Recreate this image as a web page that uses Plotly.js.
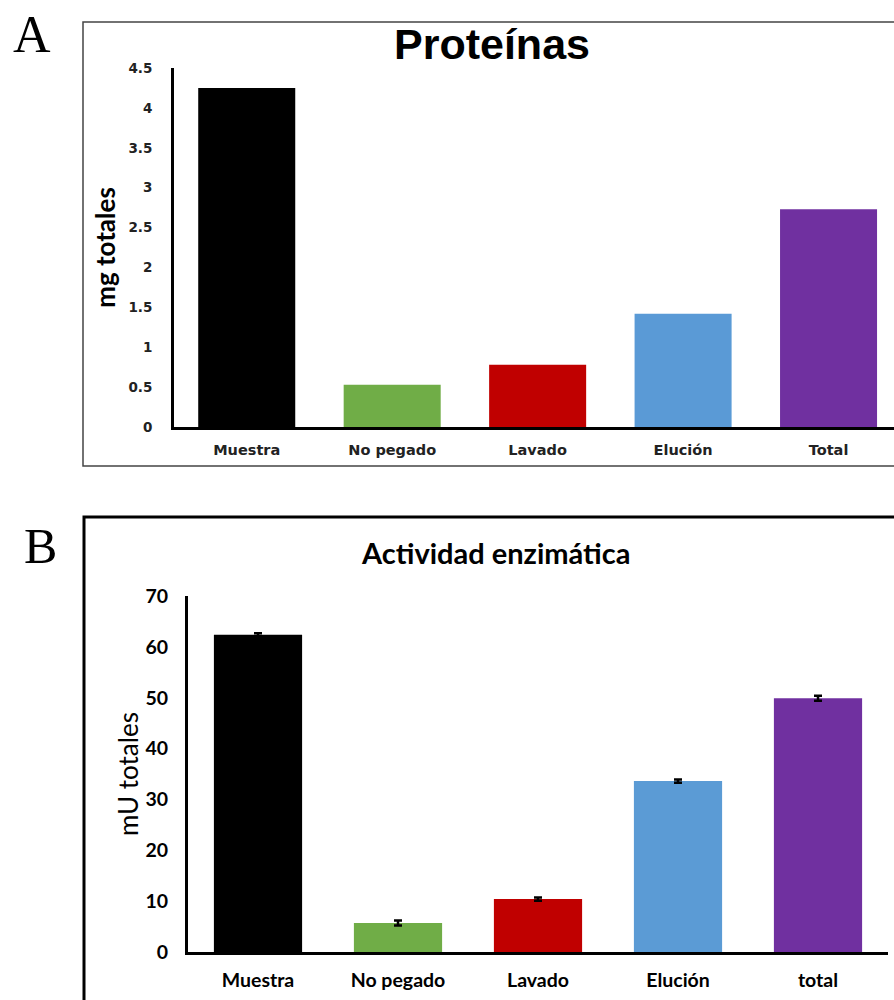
<!DOCTYPE html>
<html>
<head>
<meta charset="utf-8">
<script src="https://cdn.plot.ly/plotly-3.0.1.min.js"></script>
<style>html,body{margin:0;padding:0;background:#fff;overflow:hidden}</style>
</head>
<body>
<div id="chart" style="width:894px;height:1000px"></div>
<script>
// Panel A: Proteínas (mg totales)
const catsA = ["Muestra", "No pegado", "Lavado", "Elución", "Total"];
const protA = [4.25, 0.53, 0.78, 1.42, 2.73];
const colorsA = ["#000000", "#70AD47", "#C00000", "#5A9AD6", "#7030A0"];
const ticksA = [0, 0.5, 1, 1.5, 2, 2.5, 3, 3.5, 4, 4.5];
const tickTextA = ["0", "0.5", "1", "1.5", "2", "2.5", "3", "3.5", "4", "4.5"];

// Panel B: Actividad enzimática (mU totales)
const catsB = ["Muestra", "No pegado", "Lavado", "Elución", "total"];
const actB = [62.4, 5.7, 10.4, 33.6, 49.9];
const errB = [0.3, 0.5, 0.3, 0.3, 0.5];
const colorsB = ["#000000", "#70AD47", "#C00000", "#5B9BD5", "#7030A0"];
const ticksB = [0, 10, 20, 30, 40, 50, 60, 70];

const W = 894, H = 1000;
const px = v => v / W;
const py = v => 1 - v / H;

const traces = [
  {
    type: "bar", x: catsA, y: protA, xaxis: "x", yaxis: "y",
    width: 0.667, marker: {color: colorsA, line: {width: 0}},
    hoverinfo: "x+y", showlegend: false
  },
  {
    type: "bar", x: catsB, y: actB, xaxis: "x2", yaxis: "y2",
    width: 0.63, marker: {color: colorsB, line: {width: 0}},
    error_y: {type: "data", array: errB, visible: true, color: "#000", thickness: 2.5, width: 4},
    hoverinfo: "x+y", showlegend: false
  }
];

const layout = {
  width: W, height: H,
  margin: {l: 0, r: 0, t: 0, b: 0},
  paper_bgcolor: "#fff", plot_bgcolor: "rgba(0,0,0,0)",
  bargap: 0.33,
  xaxis: {
    domain: [px(174), 1], range: [-0.5, 4.45], anchor: "y",
    showline: true, linecolor: "#000", linewidth: 3, showgrid: false, zeroline: false,
    ticks: "", ticklabelstandoff: 8,
    tickfont: {family: "DejaVu Sans", size: 14.5, color: "#222", weight: "bold"},
    fixedrange: true
  },
  yaxis: {
    domain: [py(427), py(68)], range: [0, 4.5], anchor: "x",
    showline: true, linecolor: "#000", linewidth: 3, showgrid: false, zeroline: false,
    tickvals: ticksA, ticktext: tickTextA, ticks: "", ticklabelstandoff: 16,
    tickfont: {family: "DejaVu Sans", size: 13.5, color: "#222", weight: "bold"},
    title: {text: "mg totales", standoff: 6, font: {family: "Lato", size: 26, color: "#000", weight: "bold"}},
    fixedrange: true
  },
  xaxis2: {
    domain: [px(188), px(888)], range: [-0.5, 4.5], anchor: "y2",
    showline: true, linecolor: "#000", linewidth: 3, showgrid: false, zeroline: false,
    ticks: "", ticklabelstandoff: 9,
    tickfont: {family: "Lato", size: 19.5, color: "#000", weight: "bold"},
    fixedrange: true
  },
  yaxis2: {
    domain: [py(952), py(596)], range: [0, 70], anchor: "x2",
    showline: true, linecolor: "#000", linewidth: 3, showgrid: false, zeroline: false,
    tickvals: ticksB, ticks: "", ticklabelstandoff: 13,
    tickfont: {family: "Lato", size: 19.5, color: "#000", weight: "bold"},
    title: {text: "mU totales", standoff: 0, font: {family: "Lato", size: 26, color: "#000"}},
    fixedrange: true
  },
  shapes: [
    {type: "rect", xref: "paper", yref: "paper", x0: px(83), x1: 1.02, y0: py(466), y1: py(22),
     line: {color: "#444", width: 1.5}, fillcolor: "rgba(0,0,0,0)", layer: "below"},
    {type: "rect", xref: "paper", yref: "paper", x0: px(84), x1: 1.02, y0: -0.02, y1: py(517),
     line: {color: "#000", width: 3}, fillcolor: "rgba(0,0,0,0)", layer: "below"}
  ],
  annotations: [
    {text: "A", xref: "paper", yref: "paper", x: px(32), y: py(34), xanchor: "center", yanchor: "middle",
     showarrow: false, font: {family: "Liberation Serif", size: 52, color: "#000"}},
    {text: "B", xref: "paper", yref: "paper", x: px(40), y: py(546), xanchor: "center", yanchor: "middle",
     showarrow: false, font: {family: "Liberation Serif", size: 50, color: "#000"}},
    {text: "Proteínas", xref: "paper", yref: "paper", x: px(492), y: py(44), xanchor: "center", yanchor: "middle",
     showarrow: false, font: {family: "Liberation Sans", size: 43, color: "#000", weight: "bold"}},
    {text: "Actividad enzimática", xref: "paper", yref: "paper", x: px(495), y: py(552), xanchor: "center", yanchor: "middle",
     showarrow: false, font: {family: "Lato", size: 29, color: "#000", weight: "bold"}}
  ]
};

Plotly.newPlot("chart", traces, layout, {displayModeBar: false, staticPlot: true});
</script>
</body>
</html>
